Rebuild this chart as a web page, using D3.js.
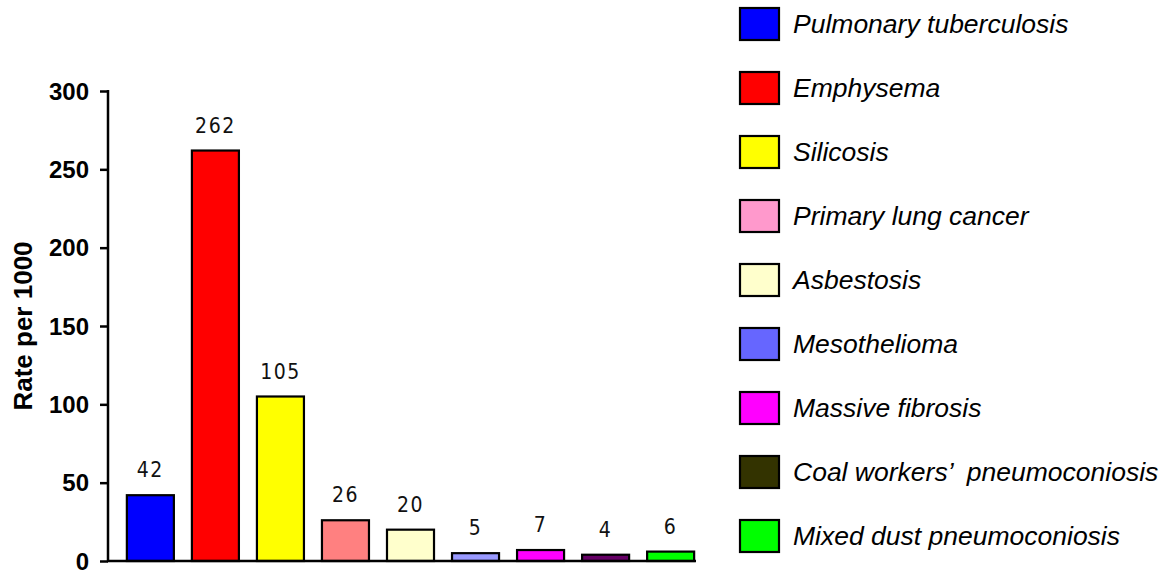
<!DOCTYPE html>
<html><head><meta charset="utf-8">
<script src="https://cdn.jsdelivr.net/npm/d3@7"></script>
<style>body{margin:0;background:#fff}svg{display:block}</style>
</head><body>
<svg id="c" width="1166" height="571"></svg>
<script>
const categories = ["Pulmonary tuberculosis","Emphysema","Silicosis","Primary lung cancer","Asbestosis","Mesothelioma","Massive fibrosis","Coal workers’  pneumoconiosis","Mixed dust pneumoconiosis"];
const values = [42,262,105,26,20,5,7,4,6];
const barColors = ["#0000ff","#ff0000","#ffff00","#ff8080","#ffffcc","#9999ff","#ff00ff","#660066","#00ff00"];
const legendColors = ["#0000ff","#ff0000","#ffff00","#ff99cc","#ffffcc","#6666ff","#ff00ff","#333300","#00ff00"];
const yTicks = [0,50,100,150,200,250,300];
const yTitle = "Rate per 1000";

const svg = d3.select("#c");
const x = d3.scaleBand().domain(categories).range([108,713]).paddingInner(0.277).paddingOuter(0.29);
const y = d3.scaleLinear().domain([0,300]).range([561,91]);

// bars
svg.append("g").selectAll("rect").data(values).join("rect")
  .attr("x",(d,i)=>x(categories[i])).attr("width",x.bandwidth())
  .attr("y",d=>y(d)).attr("height",d=>y(0)-y(d))
  .attr("fill",(d,i)=>barColors[i]).attr("stroke","#000").attr("stroke-width",2.2);

// value labels
svg.append("g").selectAll("text").data(values).join("text")
  .attr("x",(d,i)=>x(categories[i])+x.bandwidth()/2)
  .attr("y",d=>y(d)-18)
  .attr("text-anchor","middle")
  .style("font-family","'DejaVu Sans Condensed','DejaVu Sans',sans-serif")
  .style("font-size","21px").style("letter-spacing","1.5px").attr("fill","#111")
  .text(d=>d);

// y axis
const ya = svg.append("g").attr("transform","translate(108,0)")
  .call(d3.axisLeft(y).tickValues(yTicks).tickSize(8).tickPadding(11).tickFormat(d3.format("d")));
ya.select(".domain").attr("stroke","#000").attr("stroke-width",2.5).attr("d","M0,561V90");
ya.selectAll(".tick line").attr("stroke","#000").attr("stroke-width",2.5);
ya.selectAll(".tick text").style("font-family","'Liberation Sans',Arial,sans-serif")
  .style("font-size","24px").style("font-weight","bold").attr("fill","#000").attr("dy","0.34em");

// x axis line
svg.append("line").attr("x1",107).attr("x2",696).attr("y1",y(0)).attr("y2",y(0))
  .attr("stroke","#000").attr("stroke-width",2.5);

// y title
svg.append("text").attr("transform","translate(32,326) rotate(-90)")
  .attr("text-anchor","middle")
  .style("font-family","'Liberation Sans',Arial,sans-serif")
  .style("font-size","26px").style("font-weight","bold").text(yTitle);

// legend
const lg = svg.append("g").selectAll("g").data(categories).join("g")
  .attr("transform",(d,i)=>`translate(740,${8+i*64})`);
lg.append("rect").attr("width",39).attr("height",32)
  .attr("fill",(d,i)=>legendColors[i]).attr("stroke","#000").attr("stroke-width",2.2);
lg.append("text").attr("x",53).attr("y",25)
  .style("font-family","'Liberation Sans',Arial,sans-serif")
  .style("font-size","26.5px").style("font-style","italic").style("white-space","pre")
  .attr("fill","#000").text(d=>d);
</script>
</body></html>
